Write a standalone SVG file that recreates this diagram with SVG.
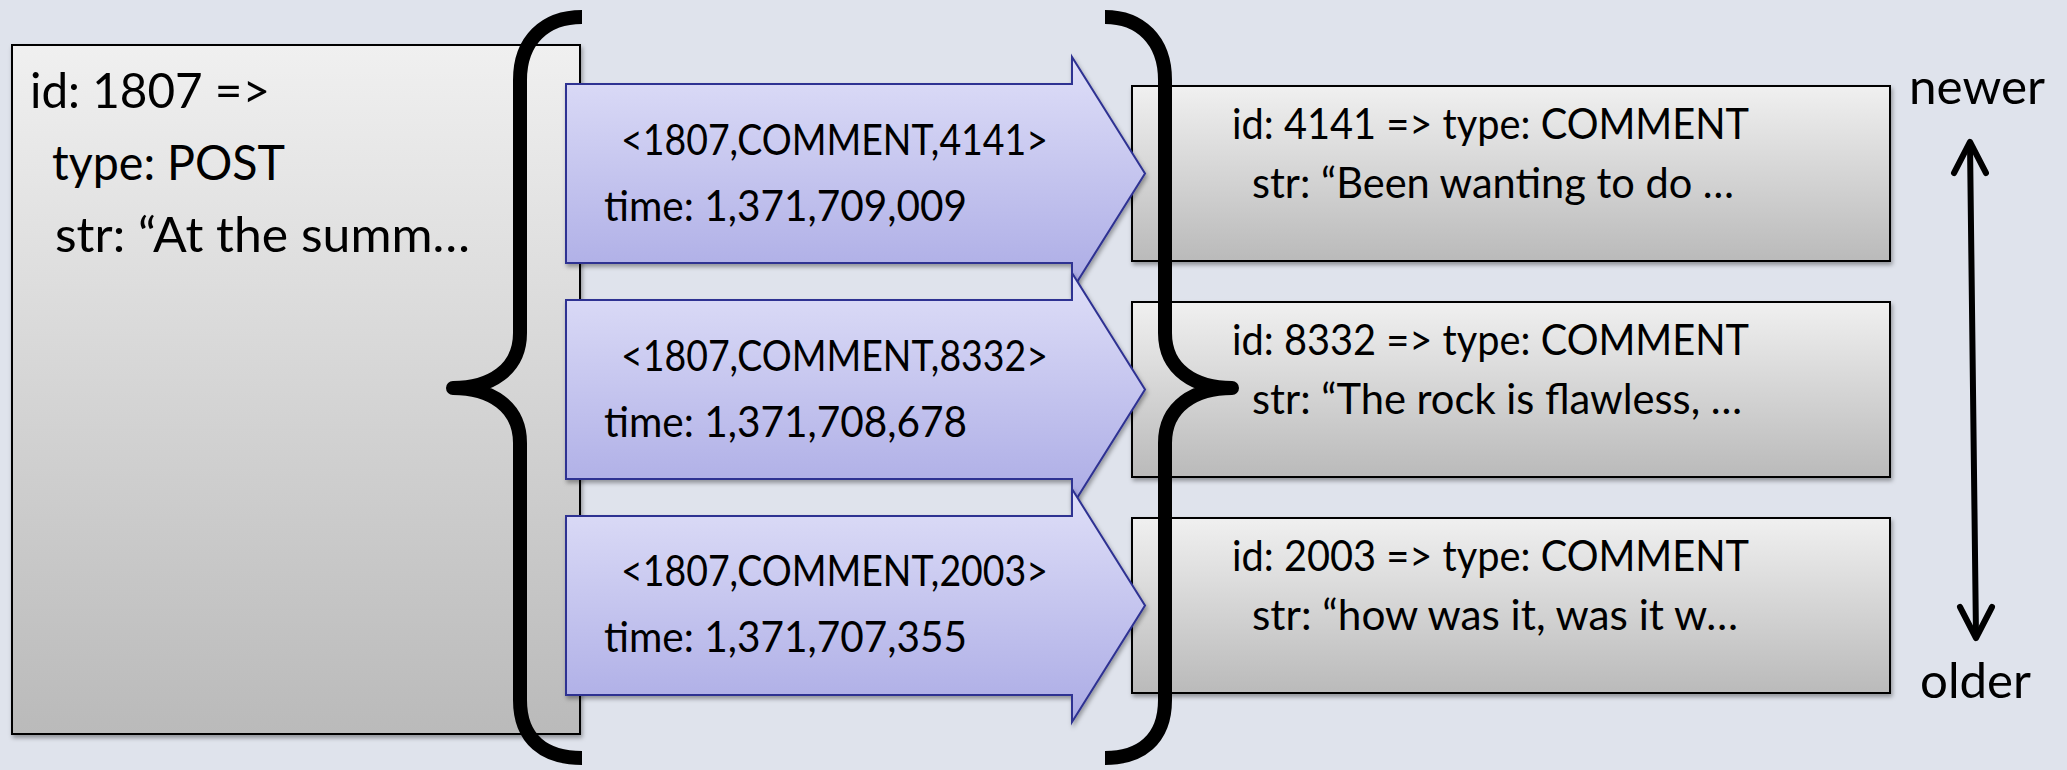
<svg xmlns="http://www.w3.org/2000/svg" width="2067" height="770" viewBox="0 0 2067 770">
<defs>
  <linearGradient id="gGray" x1="0" y1="0" x2="0" y2="1">
    <stop offset="0" stop-color="#F0F0F0"/>
    <stop offset="1" stop-color="#BABABA"/>
  </linearGradient>
  <linearGradient id="gBlue" x1="0" y1="0" x2="0" y2="1">
    <stop offset="0" stop-color="#DFDFF8"/>
    <stop offset="1" stop-color="#ABABE5"/>
  </linearGradient>
  <filter id="sh" x="-5%" y="-5%" width="115%" height="120%">
    <feDropShadow dx="1.5" dy="3" stdDeviation="2" flood-color="#000" flood-opacity="0.35"/>
  </filter>
</defs>
<style>
  text { font-family: Lato, "Liberation Sans", sans-serif; fill: #000; }
  .box { fill: url(#gGray); stroke: #000; stroke-width: 2; filter: url(#sh); }
  .arrow { fill: url(#gBlue); stroke: #2E3192; stroke-width: 2; stroke-linejoin: miter; filter: url(#sh); }
  .brace { fill: none; stroke: #000; stroke-width: 14; stroke-linejoin: round; }
  .big { font-size: 49px; }
  .mid { font-size: 42px; }
  .conn { fill: none; stroke: #000; stroke-width: 6; stroke-linecap: round; stroke-linejoin: round; }
</style>
<rect x="0" y="0" width="2067" height="770" fill="#DFE3EC"/>

<g id="post">
  <rect class="box" x="12" y="45" width="568" height="689"/>
  <text class="big" x="30" y="108" textLength="240" lengthAdjust="spacingAndGlyphs">id: 1807 =&gt;</text>
  <text class="big" x="52" y="180" textLength="233" lengthAdjust="spacingAndGlyphs">type: POST</text>
  <text class="big" x="55" y="252" textLength="415" lengthAdjust="spacingAndGlyphs">str: “At the summ…</text>
</g>

<g id="comment4141">
  <rect class="box" x="1132" y="86" width="758" height="175"/>
  <text class="mid" x="1232" y="139" textLength="517" lengthAdjust="spacingAndGlyphs">id: 4141 =&gt; type: COMMENT</text>
  <text class="mid" x="1252" y="198" textLength="482" lengthAdjust="spacingAndGlyphs">str: “Been wanting to do …</text>
</g>
<g id="comment8332">
  <rect class="box" x="1132" y="302" width="758" height="175"/>
  <text class="mid" x="1232" y="355" textLength="517" lengthAdjust="spacingAndGlyphs">id: 8332 =&gt; type: COMMENT</text>
  <text class="mid" x="1252" y="414" textLength="490" lengthAdjust="spacingAndGlyphs">str: “The rock is flawless, …</text>
</g>
<g id="comment2003">
  <rect class="box" x="1132" y="518" width="758" height="175"/>
  <text class="mid" x="1232" y="571" textLength="517" lengthAdjust="spacingAndGlyphs">id: 2003 =&gt; type: COMMENT</text>
  <text class="mid" x="1252" y="630" textLength="486" lengthAdjust="spacingAndGlyphs">str: “how was it, was it w…</text>
</g>

<g id="edge4141">
  <polygon class="arrow" points="566,84 1072,84 1072,57 1145,173.5 1072,290 1072,263 566,263"/>
  <text class="mid" x="621" y="155" textLength="427" lengthAdjust="spacingAndGlyphs">&lt;1807,COMMENT,4141&gt;</text>
  <text class="mid" x="604" y="221" textLength="363" lengthAdjust="spacingAndGlyphs">time: 1,371,709,009</text>
</g>
<g id="edge8332">
  <polygon class="arrow" points="566,300 1072,300 1072,273 1145,389.5 1072,506 1072,479 566,479"/>
  <text class="mid" x="621" y="371" textLength="427" lengthAdjust="spacingAndGlyphs">&lt;1807,COMMENT,8332&gt;</text>
  <text class="mid" x="604" y="437" textLength="363" lengthAdjust="spacingAndGlyphs">time: 1,371,708,678</text>
</g>
<g id="edge2003">
  <polygon class="arrow" points="566,516 1072,516 1072,489 1145,605.5 1072,722 1072,695 566,695"/>
  <text class="mid" x="621" y="586" textLength="427" lengthAdjust="spacingAndGlyphs">&lt;1807,COMMENT,2003&gt;</text>
  <text class="mid" x="604" y="652" textLength="363" lengthAdjust="spacingAndGlyphs">time: 1,371,707,355</text>
</g>

<g id="braces">
  <path class="brace" d="M582,17 C545,17 520,40 520,80 L520,333 C520,370 490,388 453,388 C490,388 520,406 520,443 L520,700 C520,740 545,758 582,758"/>
  <path class="brace" d="M1105,17 C1140,17 1165,40 1165,80 L1165,333 C1165,370 1195,388 1232,388 C1195,388 1165,406 1165,443 L1165,700 C1165,740 1140,758 1105,758"/>
</g>

<g id="connectors">
  <line class="conn" x1="1970" y1="144" x2="1976" y2="636"/>
  <polyline class="conn" points="1954,173 1970,142 1986,173"/>
  <polyline class="conn" points="1960,607 1976,638 1992,607"/>
</g>

<g id="labels">
  <text class="big" x="1909" y="104" textLength="136" lengthAdjust="spacingAndGlyphs">newer</text>
  <text class="big" x="1920" y="698" textLength="111" lengthAdjust="spacingAndGlyphs">older</text>
</g>
</svg>
